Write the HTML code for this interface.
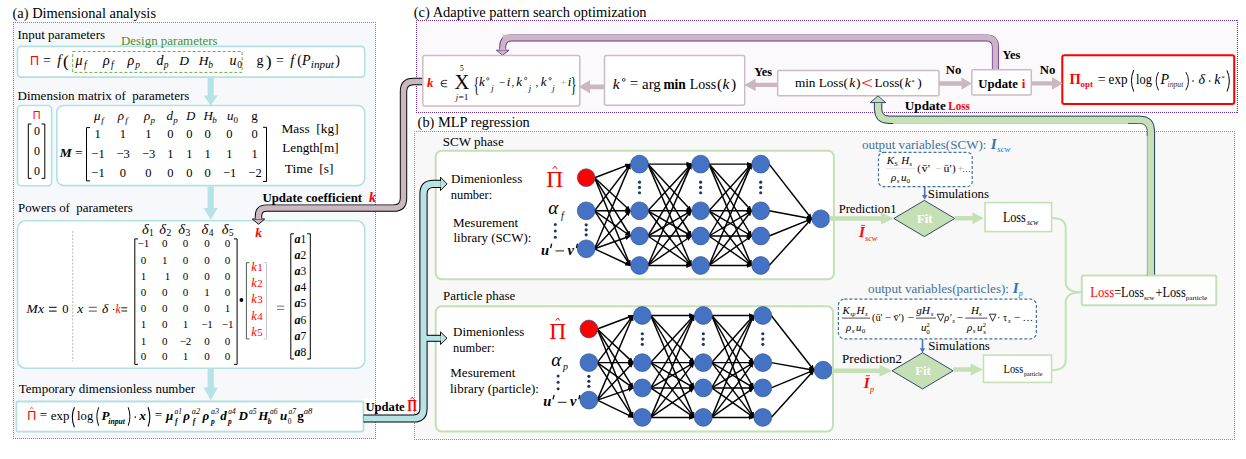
<!DOCTYPE html>
<html><head><meta charset="utf-8"><style>
html,body{margin:0;padding:0;background:#fff;overflow:hidden;}
svg{display:block;font-family:"Liberation Serif",serif;}
</style></head><body>
<svg width="1246" height="459" viewBox="0 0 1246 459">
<defs><marker id="ah" markerWidth="6" markerHeight="6" refX="5" refY="3" orient="auto" markerUnits="userSpaceOnUse"><path d="M0,0.6 L5.5,3 L0,5.4 Z" fill="#000"/></marker></defs>
<rect width="1246" height="459" fill="#fff"/>
<rect x="13.5" y="22.5" width="362.0" height="416.0" fill="#f6f8fc" stroke="none" stroke-width="0"/>
<rect x="416.6" y="20.7" width="820.9" height="91.5" fill="#fbf9fb" stroke="none" stroke-width="0"/>
<rect x="414.8" y="131.5" width="819.8" height="308.0" fill="#f8f8f8" stroke="none" stroke-width="0"/>
<rect x="364" y="398" width="55" height="17.3" fill="#fff" stroke="none" stroke-width="0"/>
<line x1="13" y1="22.5" x2="376" y2="22.5" stroke="#00b0f0" stroke-width="1" stroke-dasharray="1 1"/>
<line x1="13" y1="438.5" x2="376" y2="438.5" stroke="#00b0f0" stroke-width="1" stroke-dasharray="1 1"/>
<line x1="13.5" y1="22" x2="13.5" y2="439" stroke="#00b0f0" stroke-width="1" stroke-dasharray="1 1"/>
<line x1="375.5" y1="22" x2="375.5" y2="439" stroke="#00b0f0" stroke-width="1" stroke-dasharray="1 1"/>
<line x1="416" y1="20.5" x2="1238" y2="20.5" stroke="#7030a0" stroke-width="1" stroke-dasharray="1 1"/>
<line x1="416" y1="112.5" x2="1238" y2="112.5" stroke="#7030a0" stroke-width="1" stroke-dasharray="1 1"/>
<line x1="416.5" y1="20" x2="416.5" y2="113" stroke="#7030a0" stroke-width="1" stroke-dasharray="1 1"/>
<line x1="1237.5" y1="20" x2="1237.5" y2="113" stroke="#7030a0" stroke-width="1" stroke-dasharray="1 1"/>
<line x1="414" y1="131.5" x2="1235" y2="131.5" stroke="#70ad47" stroke-width="1" stroke-dasharray="1 1"/>
<line x1="414" y1="439.5" x2="1235" y2="439.5" stroke="#70ad47" stroke-width="1" stroke-dasharray="1 1"/>
<line x1="414.5" y1="131" x2="414.5" y2="440" stroke="#70ad47" stroke-width="1" stroke-dasharray="1 1"/>
<line x1="1234.5" y1="131" x2="1234.5" y2="440" stroke="#70ad47" stroke-width="1" stroke-dasharray="1 1"/>
<text x="12.5" y="18" font-size="14.4" textLength="143.5" lengthAdjust="spacingAndGlyphs">(a) Dimensional analysis</text>
<text x="17.5" y="38.8" font-size="13" textLength="87.5" lengthAdjust="spacingAndGlyphs">Input parameters</text>
<rect x="17.5" y="46.4" width="347.2" height="30.7" fill="#fff" stroke="#b3e0e1" stroke-width="1.6" rx="3.5"/>
<text x="121" y="44.6" font-size="13" fill="#4f8d2c" textLength="96.6" lengthAdjust="spacingAndGlyphs">Design parameters</text>
<rect x="72.7" y="51.5" width="169.4" height="20.9" fill="none" stroke="#70ad47" stroke-width="1" stroke-dasharray="3 2"/>
<text x="34.45" y="64.8" font-size="12.5" font-family="Liberation Sans" fill="#ff0000" text-anchor="middle">Π</text>
<text x="46.95" y="64.7" font-size="14" text-anchor="middle">=</text>
<text x="59.35" y="65.2" font-size="14.5" font-style="italic" text-anchor="middle">f</text>
<text x="65.8" y="66.7" font-size="17.5" text-anchor="middle">(</text>
<text x="78.95" y="65.2" font-size="14" font-style="italic" text-anchor="middle">μ</text>
<text x="85.25" y="68.2" font-size="9.5" font-style="italic" text-anchor="middle">f</text>
<text x="106.35" y="65.2" font-size="14" font-style="italic" text-anchor="middle">ρ</text>
<text x="112.3" y="68.2" font-size="9.5" font-style="italic" text-anchor="middle">f</text>
<text x="130.95" y="65.2" font-size="14" font-style="italic" text-anchor="middle">ρ</text>
<text x="137.65" y="68.2" font-size="9.5" font-style="italic" text-anchor="middle">p</text>
<text x="159.9" y="65.2" font-size="14" font-style="italic" text-anchor="middle">d</text>
<text x="166.15" y="68.2" font-size="9.5" font-style="italic" text-anchor="middle">p</text>
<text x="184.05" y="65.2" font-size="13.5" font-style="italic" text-anchor="middle">D</text>
<text x="203.5" y="65.2" font-size="13.5" font-style="italic" text-anchor="middle">H</text>
<text x="210.65" y="68.2" font-size="9.5" font-style="italic" text-anchor="middle">b</text>
<text x="232.95" y="65.2" font-size="14" font-style="italic" text-anchor="middle">u</text>
<text x="239.6" y="68.2" font-size="9.5" text-anchor="middle">0</text>
<text x="260.0" y="65.2" font-size="14" text-anchor="middle">g</text>
<text x="268.7" y="66.7" font-size="17.5" text-anchor="middle">)</text>
<text x="280.05" y="64.7" font-size="14" text-anchor="middle">=</text>
<text x="292.35" y="65.2" font-size="14.5" font-style="italic" text-anchor="middle">f</text>
<text x="299.6" y="65.2" font-size="14" text-anchor="middle">(</text>
<text x="306.35" y="65.2" font-size="14" font-style="italic" text-anchor="middle">P</text>
<text x="310.8" y="67.8" font-size="11" font-style="italic" textLength="23.1" lengthAdjust="spacingAndGlyphs">input</text>
<text x="337.5" y="65.2" font-size="14" text-anchor="middle">)</text>
<path d="M207.6,78 H213.8 V95.5 H217.8 L210.7,105.5 L203.6,95.5 H207.6 Z" fill="#b7e3e4" stroke="none" stroke-width="1" />
<path d="M207.6,186.5 H213.8 V208 H217.8 L210.7,219.8 L203.6,208 H207.6 Z" fill="#b7e3e4" stroke="none" stroke-width="1" />
<path d="M207.6,369 H213.8 V387.5 H217.8 L210.7,400.5 L203.6,387.5 H207.6 Z" fill="#b7e3e4" stroke="none" stroke-width="1" />
<text x="17.5" y="99.5" font-size="13" textLength="171.9" lengthAdjust="spacingAndGlyphs">Dimension matrix of  parameters</text>
<rect x="17.5" y="105.5" width="34.1" height="80.3" fill="#fff" stroke="#b3e0e1" stroke-width="1.6" rx="3.5"/>
<rect x="56.8" y="105.5" width="307.9" height="80.1" fill="#fff" stroke="#b3e0e1" stroke-width="1.6" rx="7"/>
<text x="36.55" y="118.6" font-size="10.8" font-family="Liberation Sans" fill="#ff0000" text-anchor="middle">Π</text>
<path d="M31.5,124 H28.3 V178.4 H31.5" fill="none" stroke="#000" stroke-width="1" />
<path d="M41.599999999999994,124 H44.8 V178.4 H41.599999999999994" fill="none" stroke="#000" stroke-width="1" />
<text x="37" y="135.3" font-size="12" text-anchor="middle">0</text>
<text x="37" y="154.9" font-size="12" text-anchor="middle">0</text>
<text x="37" y="174.5" font-size="12" text-anchor="middle">0</text>
<text x="65.7" y="157.2" font-size="13.5" font-weight="bold" font-style="italic" text-anchor="middle">M</text>
<text x="78.85" y="156.7" font-size="13.5" text-anchor="middle">=</text>
<path d="M90.0,127.6 H86.5 V180.9 H90.0" fill="none" stroke="#000" stroke-width="1" />
<path d="M263.0,127.3 H266.5 V181.5 H263.0" fill="none" stroke="#000" stroke-width="1" />
<text x="97.7" y="137.6" font-size="12.5" text-anchor="middle">1</text>
<text x="122.8" y="137.6" font-size="12.5" text-anchor="middle">1</text>
<text x="148.4" y="137.6" font-size="12.5" text-anchor="middle">1</text>
<text x="170.4" y="137.6" font-size="12.5" text-anchor="middle">0</text>
<text x="189.3" y="137.6" font-size="12.5" text-anchor="middle">0</text>
<text x="207.6" y="137.6" font-size="12.5" text-anchor="middle">0</text>
<text x="229.4" y="137.6" font-size="12.5" text-anchor="middle">0</text>
<text x="254.7" y="137.6" font-size="12.5" text-anchor="middle">0</text>
<text x="98.0" y="157.7" font-size="12.5" text-anchor="middle">−1</text>
<text x="123.1" y="157.7" font-size="12.5" text-anchor="middle">−3</text>
<text x="148.7" y="157.7" font-size="12.5" text-anchor="middle">−3</text>
<text x="170.4" y="157.7" font-size="12.5" text-anchor="middle">1</text>
<text x="189.3" y="157.7" font-size="12.5" text-anchor="middle">1</text>
<text x="207.6" y="157.7" font-size="12.5" text-anchor="middle">1</text>
<text x="229.4" y="157.7" font-size="12.5" text-anchor="middle">1</text>
<text x="254.7" y="157.7" font-size="12.5" text-anchor="middle">1</text>
<text x="98.0" y="176.5" font-size="12.5" text-anchor="middle">−1</text>
<text x="122.8" y="176.5" font-size="12.5" text-anchor="middle">0</text>
<text x="148.4" y="176.5" font-size="12.5" text-anchor="middle">0</text>
<text x="170.4" y="176.5" font-size="12.5" text-anchor="middle">0</text>
<text x="189.3" y="176.5" font-size="12.5" text-anchor="middle">0</text>
<text x="207.6" y="176.5" font-size="12.5" text-anchor="middle">0</text>
<text x="229.7" y="176.5" font-size="12.5" text-anchor="middle">−1</text>
<text x="255.0" y="176.5" font-size="12.5" text-anchor="middle">−2</text>
<text x="97.15" y="120" font-size="13" font-style="italic" text-anchor="middle">μ</text>
<text x="102.55" y="122.6" font-size="9" font-style="italic" text-anchor="middle">f</text>
<text x="120.9" y="120" font-size="13" font-style="italic" text-anchor="middle">ρ</text>
<text x="126.4" y="122.6" font-size="9" font-style="italic" text-anchor="middle">f</text>
<text x="147.1" y="120" font-size="13" font-style="italic" text-anchor="middle">ρ</text>
<text x="152.75" y="122.6" font-size="9" font-style="italic" text-anchor="middle">p</text>
<text x="169.85" y="120" font-size="13" font-style="italic" text-anchor="middle">d</text>
<text x="175.4" y="122.6" font-size="9" font-style="italic" text-anchor="middle">p</text>
<text x="190.65" y="120" font-size="12.5" font-style="italic" text-anchor="middle">D</text>
<text x="208.25" y="120" font-size="13" font-style="italic" text-anchor="middle">H</text>
<text x="214.4" y="122.6" font-size="9" font-style="italic" text-anchor="middle">b</text>
<text x="230.25" y="120" font-size="13" font-style="italic" text-anchor="middle">u</text>
<text x="235.65" y="122.6" font-size="9" text-anchor="middle">0</text>
<text x="254.5" y="120" font-size="13" text-anchor="middle">g</text>
<text x="281.5" y="133" font-size="13" textLength="57.1" lengthAdjust="spacingAndGlyphs">Mass  [kg]</text>
<text x="282.3" y="152" font-size="13" textLength="56.3" lengthAdjust="spacingAndGlyphs">Length[m]</text>
<text x="284.8" y="172.7" font-size="13" textLength="48.6" lengthAdjust="spacingAndGlyphs">Time  [s]</text>
<text x="18" y="212" font-size="13" textLength="114.8" lengthAdjust="spacingAndGlyphs">Powers of  parameters</text>
<rect x="17.5" y="220.8" width="347.2" height="147.4" fill="#fff" stroke="#b3e0e1" stroke-width="1.6" rx="8"/>
<line x1="72.7" y1="231" x2="72.7" y2="361.4" stroke="#a6a6a6" stroke-width="0.8" stroke-dasharray="2 1.5"/>
<text x="32.15" y="312.6" font-size="13.5" font-style="italic" text-anchor="middle">M</text>
<text x="40.95" y="312.6" font-size="13.5" font-style="italic" text-anchor="middle">x</text>
<line x1="49.1" y1="307.3" x2="56.6" y2="307.3" stroke="#000" stroke-width="1.0"/>
<line x1="49.1" y1="311.09999999999997" x2="56.6" y2="311.09999999999997" stroke="#000" stroke-width="1.0"/>
<text x="65.45" y="312.6" font-size="12.5" text-anchor="middle">0</text>
<text x="80.25" y="312.6" font-size="13.5" font-style="italic" text-anchor="middle">x</text>
<line x1="88.8" y1="307.3" x2="96.8" y2="307.3" stroke="#555" stroke-width="1.0"/>
<line x1="88.8" y1="311.09999999999997" x2="96.8" y2="311.09999999999997" stroke="#555" stroke-width="1.0"/>
<text x="105.2" y="312.6" font-size="13.5" font-style="italic" text-anchor="middle">δ</text>
<circle cx="113.6" cy="309.4" r="0.7" fill="#000" stroke="none" stroke-width="1"/>
<text x="118.0" y="312.6" font-size="11.5" fill="#ff0000" font-style="italic" text-anchor="middle">k</text>
<line x1="121.5" y1="307.79999999999995" x2="127.2" y2="307.79999999999995" stroke="#000" stroke-width="0.9"/>
<line x1="121.5" y1="311.0" x2="127.2" y2="311.0" stroke="#000" stroke-width="0.9"/>
<text x="145.25" y="233.8" font-size="14.5" font-style="italic" text-anchor="middle">δ</text>
<text x="151.4" y="236.4" font-size="9.5" text-anchor="middle">1</text>
<text x="162.65" y="233.8" font-size="14.5" font-style="italic" text-anchor="middle">δ</text>
<text x="168.8" y="236.4" font-size="9.5" text-anchor="middle">2</text>
<text x="181.65" y="233.8" font-size="14.5" font-style="italic" text-anchor="middle">δ</text>
<text x="187.8" y="236.4" font-size="9.5" text-anchor="middle">3</text>
<text x="204.95" y="233.8" font-size="14.5" font-style="italic" text-anchor="middle">δ</text>
<text x="211.1" y="236.4" font-size="9.5" text-anchor="middle">4</text>
<text x="225.05" y="233.8" font-size="14.5" font-style="italic" text-anchor="middle">δ</text>
<text x="231.2" y="236.4" font-size="9.5" text-anchor="middle">5</text>
<path d="M138.0,238.9 H134.8 V364.4 H138.0" fill="none" stroke="#000" stroke-width="1" />
<path d="M233.9,238.9 H237.1 V364.4 H233.9" fill="none" stroke="#000" stroke-width="1" />
<text x="143.4" y="247.3" font-size="11" text-anchor="middle">−1</text>
<text x="164.7" y="247.3" font-size="11" text-anchor="middle">0</text>
<text x="185.5" y="247.3" font-size="11" text-anchor="middle">0</text>
<text x="207" y="247.3" font-size="11" text-anchor="middle">0</text>
<text x="227.6" y="247.3" font-size="11" text-anchor="middle">0</text>
<text x="143.4" y="263.9" font-size="11" text-anchor="middle">0</text>
<text x="164.7" y="263.9" font-size="11" text-anchor="middle">1</text>
<text x="185.5" y="263.9" font-size="11" text-anchor="middle">0</text>
<text x="207" y="263.9" font-size="11" text-anchor="middle">0</text>
<text x="227.6" y="263.9" font-size="11" text-anchor="middle">0</text>
<text x="143.4" y="279.7" font-size="11" text-anchor="middle">1</text>
<text x="167.5" y="279.7" font-size="11" text-anchor="middle">1</text>
<text x="185.5" y="279.7" font-size="11" text-anchor="middle">0</text>
<text x="207" y="279.7" font-size="11" text-anchor="middle">0</text>
<text x="227.6" y="279.7" font-size="11" text-anchor="middle">0</text>
<text x="143.4" y="296" font-size="11" text-anchor="middle">0</text>
<text x="164.7" y="296" font-size="11" text-anchor="middle">0</text>
<text x="185.5" y="296" font-size="11" text-anchor="middle">0</text>
<text x="207" y="296" font-size="11" text-anchor="middle">1</text>
<text x="227.6" y="296" font-size="11" text-anchor="middle">0</text>
<text x="143.4" y="312" font-size="11" text-anchor="middle">0</text>
<text x="164.7" y="312" font-size="11" text-anchor="middle">0</text>
<text x="185.5" y="312" font-size="11" text-anchor="middle">0</text>
<text x="207" y="312" font-size="11" text-anchor="middle">0</text>
<text x="227.6" y="312" font-size="11" text-anchor="middle">1</text>
<text x="143.4" y="328.2" font-size="11" text-anchor="middle">1</text>
<text x="164.7" y="328.2" font-size="11" text-anchor="middle">0</text>
<text x="185.5" y="328.2" font-size="11" text-anchor="middle">1</text>
<text x="207" y="328.2" font-size="11" text-anchor="middle">−1</text>
<text x="227.6" y="328.2" font-size="11" text-anchor="middle">−1</text>
<text x="143.4" y="344.5" font-size="11" text-anchor="middle">1</text>
<text x="164.7" y="344.5" font-size="11" text-anchor="middle">0</text>
<text x="185.5" y="344.5" font-size="11" text-anchor="middle">−2</text>
<text x="207" y="344.5" font-size="11" text-anchor="middle">0</text>
<text x="227.6" y="344.5" font-size="11" text-anchor="middle">0</text>
<text x="143.4" y="360.3" font-size="11" text-anchor="middle">0</text>
<text x="164.7" y="360.3" font-size="11" text-anchor="middle">0</text>
<text x="185.5" y="360.3" font-size="11" text-anchor="middle">1</text>
<text x="207" y="360.3" font-size="11" text-anchor="middle">0</text>
<text x="227.6" y="360.3" font-size="11" text-anchor="middle">0</text>
<circle cx="241.4" cy="300" r="1.9" fill="#000" stroke="none" stroke-width="1"/>
<text x="258.5" y="236.9" font-size="13.5" fill="#ff0000" font-weight="bold" font-style="italic" text-anchor="middle">k</text>
<path d="M249.4,262.7 H246.4 V338.9 H249.4" fill="none" stroke="#444" stroke-width="0.9" />
<path d="M263.5,262.7 H266.5 V338.9 H263.5" fill="none" stroke="#bbb" stroke-width="0.8" />
<text x="254.1" y="271.4" font-size="12.5" fill="#ff0000" font-style="italic" text-anchor="middle">k</text>
<text x="259.95" y="271.4" font-size="11" fill="#ff0000" text-anchor="middle">1</text>
<text x="254.1" y="287.2" font-size="12.5" fill="#ff0000" font-style="italic" text-anchor="middle">k</text>
<text x="259.95" y="287.2" font-size="11" fill="#ff0000" text-anchor="middle">2</text>
<text x="254.1" y="302.8" font-size="12.5" fill="#ff0000" font-style="italic" text-anchor="middle">k</text>
<text x="259.95" y="302.8" font-size="11" fill="#ff0000" text-anchor="middle">3</text>
<text x="254.1" y="320" font-size="12.5" fill="#ff0000" font-style="italic" text-anchor="middle">k</text>
<text x="259.95" y="320" font-size="11" fill="#ff0000" text-anchor="middle">4</text>
<text x="254.1" y="336.4" font-size="12.5" fill="#ff0000" font-style="italic" text-anchor="middle">k</text>
<text x="259.95" y="336.4" font-size="11" fill="#ff0000" text-anchor="middle">5</text>
<line x1="277" y1="306.2" x2="284.2" y2="306.2" stroke="#666" stroke-width="0.9"/>
<line x1="277" y1="309.40000000000003" x2="284.2" y2="309.40000000000003" stroke="#666" stroke-width="0.9"/>
<path d="M294.0,233.8 H290.8 V359 H294.0" fill="none" stroke="#000" stroke-width="1" />
<path d="M307.1,233.8 H310.3 V359 H307.1" fill="none" stroke="#000" stroke-width="1" />
<text x="297.5" y="242.6" font-size="12" font-weight="bold" font-style="italic" text-anchor="middle">a</text>
<text x="303.45" y="242.6" font-size="11.5" text-anchor="middle">1</text>
<text x="297.5" y="258.9" font-size="12" font-weight="bold" font-style="italic" text-anchor="middle">a</text>
<text x="303.45" y="258.9" font-size="11.5" text-anchor="middle">2</text>
<text x="297.5" y="274.7" font-size="12" font-weight="bold" font-style="italic" text-anchor="middle">a</text>
<text x="303.45" y="274.7" font-size="11.5" text-anchor="middle">3</text>
<text x="297.5" y="291" font-size="12" font-weight="bold" font-style="italic" text-anchor="middle">a</text>
<text x="303.45" y="291" font-size="11.5" text-anchor="middle">4</text>
<text x="297.5" y="306.5" font-size="12" font-weight="bold" font-style="italic" text-anchor="middle">a</text>
<text x="303.45" y="306.5" font-size="11.5" text-anchor="middle">5</text>
<text x="297.5" y="323.8" font-size="12" font-weight="bold" font-style="italic" text-anchor="middle">a</text>
<text x="303.45" y="323.8" font-size="11.5" text-anchor="middle">6</text>
<text x="297.5" y="339.6" font-size="12" font-weight="bold" font-style="italic" text-anchor="middle">a</text>
<text x="303.45" y="339.6" font-size="11.5" text-anchor="middle">7</text>
<text x="297.5" y="355.7" font-size="12" font-weight="bold" font-style="italic" text-anchor="middle">a</text>
<text x="303.45" y="355.7" font-size="11.5" text-anchor="middle">8</text>
<text x="18.8" y="393.3" font-size="13" textLength="176.2" lengthAdjust="spacingAndGlyphs">Temporary dimensionless number</text>
<rect x="16.4" y="401.5" width="347.1" height="30.1" fill="#fff" stroke="#b3e0e1" stroke-width="1.8" rx="1.5"/>
<text x="31.65" y="420" font-size="12.5" font-family="Liberation Sans" fill="#ff0000" text-anchor="middle">Π</text>
<path d="M30.2,408.7 L31.7,407.4 L33.2,408.7" fill="none" stroke="#ff0000" stroke-width="0.8" />
<text x="43.45" y="419.2" font-size="13" text-anchor="middle">=</text>
<text x="50.7" y="420" font-size="13.5" textLength="18.7" lengthAdjust="spacingAndGlyphs">exp</text>
<path d="M74.4,407.3 Q70.2,417.25 74.4,427.2" fill="none" stroke="#000" stroke-width="1.1" />
<text x="77.1" y="420" font-size="13.5" textLength="16.1" lengthAdjust="spacingAndGlyphs">log</text>
<path d="M98.7,407.3 Q95.0,416.55 98.7,425.8" fill="none" stroke="#000" stroke-width="1.0" />
<text x="105.6" y="419.5" font-size="13" font-weight="bold" font-style="italic" text-anchor="middle">P</text>
<text x="108.3" y="423.5" font-size="8" font-weight="bold" font-style="italic" textLength="16.7" lengthAdjust="spacingAndGlyphs">input</text>
<path d="M128.2,407.3 Q131.60000000000002,416.55 128.2,425.8" fill="none" stroke="#000" stroke-width="1.0" />
<circle cx="135.3" cy="417.1" r="0.8" fill="#000" stroke="none" stroke-width="1"/>
<text x="142.5" y="420" font-size="13.5" font-weight="bold" font-style="italic" text-anchor="middle">x</text>
<path d="M148.1,407.3 Q151.5,416.9 148.1,426.5" fill="none" stroke="#000" stroke-width="1.1" />
<text x="158.35" y="419.2" font-size="13" text-anchor="middle">=</text>
<text x="169.65" y="420" font-size="13" font-weight="bold" font-style="italic" text-anchor="middle">μ</text>
<text x="176.35" y="424" font-size="7.5" font-weight="bold" font-style="italic" text-anchor="middle">f</text>
<text x="178.15" y="414.3" font-size="7.5" font-style="italic" text-anchor="middle">a1</text>
<text x="186.65" y="420" font-size="13" font-weight="bold" font-style="italic" text-anchor="middle">ρ</text>
<text x="194.05" y="424" font-size="7.5" font-weight="bold" font-style="italic" text-anchor="middle">f</text>
<text x="191.8" y="414.3" font-size="7.5" font-style="italic" textLength="8.3" lengthAdjust="spacingAndGlyphs">a2</text>
<text x="205.9" y="420" font-size="13" font-weight="bold" font-style="italic" text-anchor="middle">ρ</text>
<text x="212.95" y="424" font-size="7.5" font-weight="bold" font-style="italic" text-anchor="middle">p</text>
<text x="211" y="414.3" font-size="7.5" font-style="italic" textLength="8.1" lengthAdjust="spacingAndGlyphs">a3</text>
<text x="223.55" y="420" font-size="13" font-weight="bold" font-style="italic" text-anchor="middle">d</text>
<text x="229.8" y="424" font-size="7.5" font-weight="bold" font-style="italic" text-anchor="middle">p</text>
<text x="232.05" y="414.3" font-size="7.5" font-style="italic" text-anchor="middle">a4</text>
<text x="243.1" y="420" font-size="13" font-weight="bold" font-style="italic" text-anchor="middle">D</text>
<text x="248.9" y="414.3" font-size="7.5" font-style="italic" textLength="7.7" lengthAdjust="spacingAndGlyphs">a5</text>
<text x="263.3" y="420" font-size="13" font-weight="bold" font-style="italic" text-anchor="middle">H</text>
<text x="269.5" y="424" font-size="7.5" font-weight="bold" font-style="italic" text-anchor="middle">b</text>
<text x="273.85" y="414.3" font-size="7.5" font-style="italic" text-anchor="middle">a6</text>
<text x="283.55" y="420" font-size="13" font-weight="bold" font-style="italic" text-anchor="middle">u</text>
<text x="289.5" y="424" font-size="7.5" text-anchor="middle">0</text>
<text x="288.4" y="414.3" font-size="7.5" font-style="italic" textLength="7.6" lengthAdjust="spacingAndGlyphs">a7</text>
<text x="300.4" y="420" font-size="13" font-weight="bold" text-anchor="middle">g</text>
<text x="303.8" y="414.3" font-size="7.5" font-style="italic" textLength="8.6" lengthAdjust="spacingAndGlyphs">a8</text>
<text x="262.4" y="201.7" font-size="13" font-weight="bold" textLength="99.7" lengthAdjust="spacingAndGlyphs">Update coefficient</text>
<text x="372.55" y="201.7" font-size="14" fill="#ff0000" font-weight="bold" font-style="italic" text-anchor="middle">k</text>
<path d="M423,81.5 H413.5 Q403.5,81.5 403.5,91.5 V198.2 Q403.5,208.1 393.5,208.1 H266.5 Q258.5,208.1 258.5,216.1 V219.5" fill="none" stroke="#000" stroke-width="7.4" />
<path d="M423,81.5 H413.5 Q403.5,81.5 403.5,91.5 V198.2 Q403.5,208.1 393.5,208.1 H266.5 Q258.5,208.1 258.5,216.1 V219.5" fill="none" stroke="#c9b8bf" stroke-width="5.5" />
<path d="M252.3,219 H264.7 L258.5,224.3 Z" fill="#c9b8bf" stroke="#000" stroke-width="0.9" />
<path d="M255.6,218.2 H261.4" fill="none" stroke="#c9b8bf" stroke-width="1.6" />
<text x="413.8" y="16.7" font-size="14.4" textLength="232.8" lengthAdjust="spacingAndGlyphs">(c) Adaptive pattern search optimization</text>
<path d="M995.4,70 V47 Q995.4,38 986.4,38 H511.7 Q502.7,38 502.7,47 V50.5" fill="none" stroke="#7030a0" stroke-width="7.0" />
<path d="M995.4,70 V47 Q995.4,38 986.4,38 H511.7 Q502.7,38 502.7,47 V50.5" fill="none" stroke="#c9b8bf" stroke-width="5.2" />
<path d="M502.7,38 H986.4 Q995.4,38 995.4,47 V70" fill="none" stroke="#c9b8bf" stroke-width="5.2" transform="translate(0,-0.6)"/>
<path d="M496.3,50.2 H509 L502.6,55.2 Z" fill="#c9b8bf" stroke="#7030a0" stroke-width="0.9" />
<path d="M499.6,49.5 H505.8" fill="none" stroke="#c9b8bf" stroke-width="1.6" />
<rect x="422.8" y="55.6" width="157.0" height="50.3" fill="#fff" stroke="#cbbcc3" stroke-width="1.5" rx="2"/>
<rect x="604.5" y="55.6" width="140.2" height="49.7" fill="#fff" stroke="#cbbcc3" stroke-width="1.5" rx="2"/>
<rect x="777.7" y="70.6" width="161.3" height="25.2" fill="#fff" stroke="#cbbcc3" stroke-width="1.5" rx="1"/>
<rect x="971.8" y="69.8" width="59.5" height="25.3" fill="#fff" stroke="#cbbcc3" stroke-width="1.5" rx="1"/>
<rect x="1062.3" y="55.2" width="171.9" height="48.9" fill="#fff" stroke="#ff0000" stroke-width="2" rx="2"/>
<path d="M604.5,84.39999999999999 H590 V80.35 L578.7,86.8 L590,93.25 V89.2 H604.5 Z" fill="#c9b8bf" stroke="none" stroke-width="1" />
<path d="M777.7,82.80000000000001 H755.6 V78.7 L744.2,84.9 L755.6,91.10000000000001 V87.0 H777.7 Z" fill="#c9b8bf" stroke="none" stroke-width="1" />
<path d="M939,81.35 H961.4 V77.39999999999999 L971.8,83.6 L961.4,89.8 V85.85 H939 Z" fill="#c9b8bf" stroke="none" stroke-width="1" />
<path d="M1031.3,81.2 H1052 V76.95 L1062.6,83.4 L1052,89.85000000000001 V85.60000000000001 H1031.3 Z" fill="#c9b8bf" stroke="none" stroke-width="1" />
<text x="430.25" y="86.5" font-size="13" fill="#ff0000" font-weight="bold" font-style="italic" text-anchor="middle">k</text>
<path d="M447.2,80.4 H444.2 Q441.1,80.4 441.1,83.6 Q441.1,86.8 444.2,86.8 H447.2 M441.3,83.6 H446.6" fill="none" stroke="#000" stroke-width="0.8" />
<text x="461.85" y="89.4" font-size="20.5" text-anchor="middle">X</text>
<text x="461.9" y="70.6" font-size="7.5" text-anchor="middle">5</text>
<text x="456.9" y="100" font-size="8.5" font-style="italic" text-anchor="middle">j</text>
<text x="458.5" y="100" font-size="8.5" textLength="9.9" lengthAdjust="spacingAndGlyphs">=1</text>
<text x="476.35" y="91" font-size="20" text-anchor="middle" transform="translate(476.3,0) scale(0.6,1) translate(-476.3,0)">{</text>
<text x="481.85" y="86.3" font-size="13" font-style="italic" text-anchor="middle">k</text>
<circle cx="487.8" cy="78.8" r="1.2" fill="none" stroke="#000" stroke-width="0.6"/>
<text x="492.4" y="90.5" font-size="8.5" font-style="italic" text-anchor="middle">j</text>
<text x="501.95" y="86.3" font-size="11" text-anchor="middle">−</text>
<text x="508.5" y="86.3" font-size="13" font-style="italic" text-anchor="middle">i</text>
<text x="512.85" y="86.3" font-size="11" text-anchor="middle">,</text>
<text x="519.15" y="86.3" font-size="13" font-style="italic" text-anchor="middle">k</text>
<circle cx="525.7" cy="78.5" r="1.2" fill="none" stroke="#000" stroke-width="0.6"/>
<text x="529.9" y="90.5" font-size="8.5" font-style="italic" text-anchor="middle">j</text>
<text x="536.95" y="86.3" font-size="11" text-anchor="middle">,</text>
<text x="543.55" y="86.3" font-size="13" font-style="italic" text-anchor="middle">k</text>
<circle cx="550.1" cy="78.8" r="1.2" fill="none" stroke="#000" stroke-width="0.6"/>
<text x="553.4" y="90.5" font-size="8.5" font-style="italic" text-anchor="middle">j</text>
<text x="563.25" y="86.3" font-size="11" fill="#aaa" text-anchor="middle">+</text>
<text x="569.5" y="86.3" font-size="13" font-style="italic" text-anchor="middle">i</text>
<text x="573.65" y="91" font-size="20" text-anchor="middle" transform="translate(573.6,0) scale(0.6,1) translate(-573.6,0)">}</text>
<text x="616.25" y="88.8" font-size="15.5" font-style="italic" text-anchor="middle">k</text>
<circle cx="623.8" cy="79.9" r="1.4" fill="none" stroke="#000" stroke-width="0.7"/>
<text x="634.05" y="88.3" font-size="15" text-anchor="middle">=</text>
<text x="642.1" y="88.8" font-size="15.5" textLength="18.7" lengthAdjust="spacingAndGlyphs">arg</text>
<text x="663.4" y="88.8" font-size="15.5" font-weight="bold" textLength="22.3" lengthAdjust="spacingAndGlyphs">min</text>
<text x="689.8" y="88.8" font-size="15.5" textLength="26.4" lengthAdjust="spacingAndGlyphs">Loss</text>
<text x="719.65" y="88.8" font-size="15.5" text-anchor="middle">(</text>
<text x="726.05" y="88.8" font-size="15.5" font-style="italic" text-anchor="middle">k</text>
<text x="733.65" y="88.8" font-size="15.5" text-anchor="middle">)</text>
<text x="754.2" y="76.3" font-size="13" font-weight="bold" textLength="18.0" lengthAdjust="spacingAndGlyphs">Yes</text>
<text x="794.9" y="87.2" font-size="13.5" textLength="20.6" lengthAdjust="spacingAndGlyphs">min</text>
<text x="818.7" y="87.2" font-size="13.5" textLength="24.9" lengthAdjust="spacingAndGlyphs">Loss</text>
<text x="845.8" y="87.2" font-size="13.5" text-anchor="middle">(</text>
<text x="852.3" y="87.2" font-size="13.5" font-style="italic" text-anchor="middle">k</text>
<text x="858.25" y="87.2" font-size="13.5" text-anchor="middle">)</text>
<path d="M871.8,79.4 L862.4,83 L871.8,86.6" fill="none" stroke="#ff0000" stroke-width="0.9" />
<text x="874.5" y="87.2" font-size="13.5" textLength="24.9" lengthAdjust="spacingAndGlyphs">Loss</text>
<text x="901.6" y="87.2" font-size="13.5" text-anchor="middle">(</text>
<text x="907.8" y="87.2" font-size="13.5" font-style="italic" text-anchor="middle">k</text>
<text x="912.95" y="83.5" font-size="7" text-anchor="middle">*</text>
<text x="919.45" y="87.2" font-size="13.5" text-anchor="middle">)</text>
<text x="945.8" y="74.2" font-size="13" font-weight="bold" textLength="15.6" lengthAdjust="spacingAndGlyphs">No</text>
<text x="978.3" y="87.9" font-size="13" font-weight="bold" textLength="39.7" lengthAdjust="spacingAndGlyphs">Update</text>
<text x="1023.5" y="87.9" font-size="13" fill="#ff0000" font-weight="bold" text-anchor="middle">i</text>
<text x="1002.4" y="58.5" font-size="13" font-weight="bold" textLength="18.0" lengthAdjust="spacingAndGlyphs">Yes</text>
<text x="1039.7" y="73.5" font-size="13" font-weight="bold" textLength="15.6" lengthAdjust="spacingAndGlyphs">No</text>
<text x="1075.15" y="84.3" font-size="14.5" fill="#ff0000" font-weight="bold" text-anchor="middle">Π</text>
<text x="1080.5" y="87.1" font-size="9" fill="#ff0000" font-weight="bold" textLength="12.4" lengthAdjust="spacingAndGlyphs">opt</text>
<text x="1101.6" y="83.5" font-size="14" text-anchor="middle">=</text>
<text x="1108.6" y="84" font-size="14.5" textLength="19.0" lengthAdjust="spacingAndGlyphs">exp</text>
<path d="M1133.8,69.9 Q1129.1000000000001,80.75 1133.8,91.6" fill="none" stroke="#000" stroke-width="1.0" />
<text x="1136" y="84" font-size="14.5" textLength="15.9" lengthAdjust="spacingAndGlyphs">log</text>
<path d="M1158.5,72.1 Q1153.8,81.15 1158.5,90.2" fill="none" stroke="#000" stroke-width="0.9" />
<text x="1164.9" y="84.1" font-size="14" font-style="italic" text-anchor="middle">P</text>
<text x="1167.5" y="87.4" font-size="7.5" fill="#333" font-style="italic" textLength="15.8" lengthAdjust="spacingAndGlyphs">input</text>
<path d="M1185.9,72.1 Q1191.1,81.15 1185.9,90.2" fill="none" stroke="#000" stroke-width="0.9" />
<circle cx="1193" cy="81" r="0.8" fill="#000" stroke="none" stroke-width="1"/>
<text x="1201.8" y="84" font-size="14" font-style="italic" text-anchor="middle">δ</text>
<circle cx="1209.7" cy="81" r="0.8" fill="#000" stroke="none" stroke-width="1"/>
<text x="1217.25" y="84" font-size="14" font-style="italic" text-anchor="middle">k</text>
<text x="1223.15" y="79.5" font-size="6.5" text-anchor="middle">*</text>
<path d="M1227,70.4 Q1231.7,81.0 1227,91.6" fill="none" stroke="#000" stroke-width="1.0" />
<text x="904.8" y="109.6" font-size="13" font-weight="bold" textLength="41.0" lengthAdjust="spacingAndGlyphs">Update</text>
<text x="948.2" y="109.6" font-size="13" fill="#ff0000" font-weight="bold" textLength="21.7" lengthAdjust="spacingAndGlyphs">Loss</text>
<path d="M1150.9,275.6 V131 Q1150.9,119.8 1139.7,119.8 H889 Q878.1,119.8 878.1,108.9 V102.3" fill="none" stroke="#c5e0b4" stroke-width="7.4" />
<path d="M881.8,102.8 V108.9 Q881.8,116.1 889,116.1 H1139.7 Q1154.6,116.1 1154.6,131 V275.6" fill="none" stroke="#1f3864" stroke-width="1" />
<path d="M874.4,102.8 V108.9 Q874.4,123.5 889,123.5 H893" fill="none" stroke="#1f3864" stroke-width="1" />
<path d="M1128,123.5 H1139.7 Q1147.2,123.5 1147.2,131 V136" fill="none" stroke="#1f3864" stroke-width="0.8" />
<path d="M870.3,102.6 H885.7 L878,95.9 Z" fill="#c5e0b4" stroke="#1f3864" stroke-width="0.9" />
<path d="M874.9,102.9 V104 H881.3 V102.9" fill="#c5e0b4" stroke="none" stroke-width="1" />
<text x="417.6" y="127.4" font-size="14.4" textLength="112.2" lengthAdjust="spacingAndGlyphs">(b) MLP regression</text>
<text x="442.7" y="145.5" font-size="13" textLength="61.0" lengthAdjust="spacingAndGlyphs">SCW phase</text>
<rect x="435.7" y="150.7" width="398.2" height="128.5" fill="#fff" stroke="#c5e0b4" stroke-width="2" rx="6"/>
<text x="443.1" y="300" font-size="13" textLength="72.1" lengthAdjust="spacingAndGlyphs">Particle phase</text>
<rect x="435.7" y="306.3" width="397.3" height="125.2" fill="#fff" stroke="#c5e0b4" stroke-width="2" rx="6"/>
<text x="365.5" y="410.8" font-size="13" font-weight="bold" textLength="39.2" lengthAdjust="spacingAndGlyphs">Update</text>
<text x="407.3" y="410.8" font-size="16" fill="#ff0000" font-weight="bold" textLength="9.8" lengthAdjust="spacingAndGlyphs">Π</text>
<path d="M410.4,399.4 L412.2,397.2 L414.0,399.4" fill="none" stroke="#ff0000" stroke-width="0.9" />
<path d="M363.5,418.5 H413.5 Q423.5,418.5 423.5,408.5 V193.9 Q423.5,183.9 433.5,183.9 H441" fill="none" stroke="#000" stroke-width="8.2" />
<path d="M424,338.3 H441" fill="none" stroke="#000" stroke-width="7.0" />
<path d="M363.5,418.5 H413.5 Q423.5,418.5 423.5,408.5 V193.9 Q423.5,183.9 433.5,183.9 H441" fill="none" stroke="#b7e3e4" stroke-width="6.2" />
<path d="M423,338.3 H441.5" fill="none" stroke="#b7e3e4" stroke-width="5.0" />
<path d="M440.5,177.2 L447,183.9 L440.5,190.6 Z" fill="#b7e3e4" stroke="#000" stroke-width="0.9" />
<path d="M440.5,331.9 L447,338.2 L440.5,344.5 Z" fill="#b7e3e4" stroke="#000" stroke-width="0.9" />
<path d="M440,180.9 V186.9 M440,335.9 V340.7" fill="none" stroke="#b7e3e4" stroke-width="1.6" />
<line x1="594.6" y1="177.7" x2="630.3" y2="164.1" stroke="#000" stroke-width="1.45" marker-end="url(#ah)"/>
<line x1="594.6" y1="177.7" x2="630.3" y2="210.8" stroke="#000" stroke-width="1.45" marker-end="url(#ah)"/>
<line x1="594.6" y1="177.7" x2="630.3" y2="236.0" stroke="#000" stroke-width="1.45" marker-end="url(#ah)"/>
<line x1="594.6" y1="177.7" x2="630.3" y2="265.5" stroke="#000" stroke-width="1.45" marker-end="url(#ah)"/>
<line x1="594.6" y1="210.8" x2="630.3" y2="164.1" stroke="#000" stroke-width="1.45" marker-end="url(#ah)"/>
<line x1="594.6" y1="210.8" x2="630.3" y2="210.8" stroke="#000" stroke-width="1.45" marker-end="url(#ah)"/>
<line x1="594.6" y1="210.8" x2="630.3" y2="236.0" stroke="#000" stroke-width="1.45" marker-end="url(#ah)"/>
<line x1="594.6" y1="210.8" x2="630.3" y2="265.5" stroke="#000" stroke-width="1.45" marker-end="url(#ah)"/>
<line x1="594.6" y1="248.8" x2="630.3" y2="164.1" stroke="#000" stroke-width="1.45" marker-end="url(#ah)"/>
<line x1="594.6" y1="248.8" x2="630.3" y2="210.8" stroke="#000" stroke-width="1.45" marker-end="url(#ah)"/>
<line x1="594.6" y1="248.8" x2="630.3" y2="236.0" stroke="#000" stroke-width="1.45" marker-end="url(#ah)"/>
<line x1="594.6" y1="248.8" x2="630.3" y2="265.5" stroke="#000" stroke-width="1.45" marker-end="url(#ah)"/>
<line x1="647.9" y1="164.1" x2="691.4" y2="164.1" stroke="#000" stroke-width="1.45" marker-end="url(#ah)"/>
<line x1="647.9" y1="164.1" x2="691.4" y2="210.8" stroke="#000" stroke-width="1.45" marker-end="url(#ah)"/>
<line x1="647.9" y1="164.1" x2="691.4" y2="236.0" stroke="#000" stroke-width="1.45" marker-end="url(#ah)"/>
<line x1="647.9" y1="164.1" x2="691.4" y2="265.5" stroke="#000" stroke-width="1.45" marker-end="url(#ah)"/>
<line x1="647.9" y1="210.8" x2="691.4" y2="164.1" stroke="#000" stroke-width="1.45" marker-end="url(#ah)"/>
<line x1="647.9" y1="210.8" x2="691.4" y2="210.8" stroke="#000" stroke-width="1.45" marker-end="url(#ah)"/>
<line x1="647.9" y1="210.8" x2="691.4" y2="236.0" stroke="#000" stroke-width="1.45" marker-end="url(#ah)"/>
<line x1="647.9" y1="210.8" x2="691.4" y2="265.5" stroke="#000" stroke-width="1.45" marker-end="url(#ah)"/>
<line x1="647.9" y1="236.0" x2="691.4" y2="164.1" stroke="#000" stroke-width="1.45" marker-end="url(#ah)"/>
<line x1="647.9" y1="236.0" x2="691.4" y2="210.8" stroke="#000" stroke-width="1.45" marker-end="url(#ah)"/>
<line x1="647.9" y1="236.0" x2="691.4" y2="236.0" stroke="#000" stroke-width="1.45" marker-end="url(#ah)"/>
<line x1="647.9" y1="236.0" x2="691.4" y2="265.5" stroke="#000" stroke-width="1.45" marker-end="url(#ah)"/>
<line x1="647.9" y1="265.5" x2="691.4" y2="164.1" stroke="#000" stroke-width="1.45" marker-end="url(#ah)"/>
<line x1="647.9" y1="265.5" x2="691.4" y2="210.8" stroke="#000" stroke-width="1.45" marker-end="url(#ah)"/>
<line x1="647.9" y1="265.5" x2="691.4" y2="236.0" stroke="#000" stroke-width="1.45" marker-end="url(#ah)"/>
<line x1="647.9" y1="265.5" x2="691.4" y2="265.5" stroke="#000" stroke-width="1.45" marker-end="url(#ah)"/>
<line x1="709.0" y1="164.1" x2="751.5" y2="164.1" stroke="#000" stroke-width="1.45" marker-end="url(#ah)"/>
<line x1="709.0" y1="164.1" x2="751.5" y2="210.8" stroke="#000" stroke-width="1.45" marker-end="url(#ah)"/>
<line x1="709.0" y1="164.1" x2="751.5" y2="236.0" stroke="#000" stroke-width="1.45" marker-end="url(#ah)"/>
<line x1="709.0" y1="164.1" x2="751.5" y2="265.5" stroke="#000" stroke-width="1.45" marker-end="url(#ah)"/>
<line x1="709.0" y1="210.8" x2="751.5" y2="164.1" stroke="#000" stroke-width="1.45" marker-end="url(#ah)"/>
<line x1="709.0" y1="210.8" x2="751.5" y2="210.8" stroke="#000" stroke-width="1.45" marker-end="url(#ah)"/>
<line x1="709.0" y1="210.8" x2="751.5" y2="236.0" stroke="#000" stroke-width="1.45" marker-end="url(#ah)"/>
<line x1="709.0" y1="210.8" x2="751.5" y2="265.5" stroke="#000" stroke-width="1.45" marker-end="url(#ah)"/>
<line x1="709.0" y1="236.0" x2="751.5" y2="164.1" stroke="#000" stroke-width="1.45" marker-end="url(#ah)"/>
<line x1="709.0" y1="236.0" x2="751.5" y2="210.8" stroke="#000" stroke-width="1.45" marker-end="url(#ah)"/>
<line x1="709.0" y1="236.0" x2="751.5" y2="236.0" stroke="#000" stroke-width="1.45" marker-end="url(#ah)"/>
<line x1="709.0" y1="236.0" x2="751.5" y2="265.5" stroke="#000" stroke-width="1.45" marker-end="url(#ah)"/>
<line x1="709.0" y1="265.5" x2="751.5" y2="164.1" stroke="#000" stroke-width="1.45" marker-end="url(#ah)"/>
<line x1="709.0" y1="265.5" x2="751.5" y2="210.8" stroke="#000" stroke-width="1.45" marker-end="url(#ah)"/>
<line x1="709.0" y1="265.5" x2="751.5" y2="236.0" stroke="#000" stroke-width="1.45" marker-end="url(#ah)"/>
<line x1="709.0" y1="265.5" x2="751.5" y2="265.5" stroke="#000" stroke-width="1.45" marker-end="url(#ah)"/>
<line x1="769.1" y1="164.1" x2="811.6" y2="218.8" stroke="#000" stroke-width="1.45" marker-end="url(#ah)"/>
<line x1="769.1" y1="210.8" x2="811.6" y2="218.8" stroke="#000" stroke-width="1.45" marker-end="url(#ah)"/>
<line x1="769.1" y1="236.0" x2="811.6" y2="218.8" stroke="#000" stroke-width="1.45" marker-end="url(#ah)"/>
<line x1="769.1" y1="265.5" x2="811.6" y2="218.8" stroke="#000" stroke-width="1.45" marker-end="url(#ah)"/>
<circle cx="586.2" cy="177.7" r="8.9" fill="#ff0000" stroke="#2f528f" stroke-width="0.7"/>
<circle cx="586.2" cy="210.8" r="8.9" fill="#4472c4" stroke="#2f528f" stroke-width="0.7"/>
<circle cx="586.2" cy="248.8" r="8.9" fill="#4472c4" stroke="#2f528f" stroke-width="0.7"/>
<circle cx="639.5" cy="164.1" r="8.9" fill="#4472c4" stroke="#2f528f" stroke-width="0.7"/>
<circle cx="639.5" cy="210.8" r="8.9" fill="#4472c4" stroke="#2f528f" stroke-width="0.7"/>
<circle cx="639.5" cy="236" r="8.9" fill="#4472c4" stroke="#2f528f" stroke-width="0.7"/>
<circle cx="639.5" cy="265.5" r="8.9" fill="#4472c4" stroke="#2f528f" stroke-width="0.7"/>
<circle cx="700.6" cy="164.1" r="8.9" fill="#4472c4" stroke="#2f528f" stroke-width="0.7"/>
<circle cx="700.6" cy="210.8" r="8.9" fill="#4472c4" stroke="#2f528f" stroke-width="0.7"/>
<circle cx="700.6" cy="236" r="8.9" fill="#4472c4" stroke="#2f528f" stroke-width="0.7"/>
<circle cx="700.6" cy="265.5" r="8.9" fill="#4472c4" stroke="#2f528f" stroke-width="0.7"/>
<circle cx="760.7" cy="164.1" r="8.9" fill="#4472c4" stroke="#2f528f" stroke-width="0.7"/>
<circle cx="760.7" cy="210.8" r="8.9" fill="#4472c4" stroke="#2f528f" stroke-width="0.7"/>
<circle cx="760.7" cy="236" r="8.9" fill="#4472c4" stroke="#2f528f" stroke-width="0.7"/>
<circle cx="760.7" cy="265.5" r="8.9" fill="#4472c4" stroke="#2f528f" stroke-width="0.7"/>
<circle cx="820.8" cy="218.8" r="8.9" fill="#4472c4" stroke="#2f528f" stroke-width="0.7"/>
<circle cx="639.5" cy="182.15" r="1.6" fill="#1f3864" stroke="none" stroke-width="1"/>
<circle cx="639.5" cy="187.45" r="1.6" fill="#1f3864" stroke="none" stroke-width="1"/>
<circle cx="639.5" cy="192.75" r="1.6" fill="#1f3864" stroke="none" stroke-width="1"/>
<circle cx="700.6" cy="182.15" r="1.6" fill="#1f3864" stroke="none" stroke-width="1"/>
<circle cx="700.6" cy="187.45" r="1.6" fill="#1f3864" stroke="none" stroke-width="1"/>
<circle cx="700.6" cy="192.75" r="1.6" fill="#1f3864" stroke="none" stroke-width="1"/>
<circle cx="760.7" cy="182.15" r="1.6" fill="#1f3864" stroke="none" stroke-width="1"/>
<circle cx="760.7" cy="187.45" r="1.6" fill="#1f3864" stroke="none" stroke-width="1"/>
<circle cx="760.7" cy="192.75" r="1.6" fill="#1f3864" stroke="none" stroke-width="1"/>
<circle cx="586.2" cy="224.8" r="1.6" fill="#1f3864" stroke="none" stroke-width="1"/>
<circle cx="586.2" cy="229.8" r="1.6" fill="#1f3864" stroke="none" stroke-width="1"/>
<circle cx="586.2" cy="234.8" r="1.6" fill="#1f3864" stroke="none" stroke-width="1"/>
<line x1="597.3" y1="329.0" x2="633.1" y2="315.5" stroke="#000" stroke-width="1.45" marker-end="url(#ah)"/>
<line x1="597.3" y1="329.0" x2="633.1" y2="362.6" stroke="#000" stroke-width="1.45" marker-end="url(#ah)"/>
<line x1="597.3" y1="329.0" x2="633.1" y2="387.9" stroke="#000" stroke-width="1.45" marker-end="url(#ah)"/>
<line x1="597.3" y1="329.0" x2="633.1" y2="417.4" stroke="#000" stroke-width="1.45" marker-end="url(#ah)"/>
<line x1="597.3" y1="362.6" x2="633.1" y2="315.5" stroke="#000" stroke-width="1.45" marker-end="url(#ah)"/>
<line x1="597.3" y1="362.6" x2="633.1" y2="362.6" stroke="#000" stroke-width="1.45" marker-end="url(#ah)"/>
<line x1="597.3" y1="362.6" x2="633.1" y2="387.9" stroke="#000" stroke-width="1.45" marker-end="url(#ah)"/>
<line x1="597.3" y1="362.6" x2="633.1" y2="417.4" stroke="#000" stroke-width="1.45" marker-end="url(#ah)"/>
<line x1="597.3" y1="400.1" x2="633.1" y2="315.5" stroke="#000" stroke-width="1.45" marker-end="url(#ah)"/>
<line x1="597.3" y1="400.1" x2="633.1" y2="362.6" stroke="#000" stroke-width="1.45" marker-end="url(#ah)"/>
<line x1="597.3" y1="400.1" x2="633.1" y2="387.9" stroke="#000" stroke-width="1.45" marker-end="url(#ah)"/>
<line x1="597.3" y1="400.1" x2="633.1" y2="417.4" stroke="#000" stroke-width="1.45" marker-end="url(#ah)"/>
<line x1="650.7" y1="315.5" x2="694.1" y2="315.5" stroke="#000" stroke-width="1.45" marker-end="url(#ah)"/>
<line x1="650.7" y1="315.5" x2="694.1" y2="362.6" stroke="#000" stroke-width="1.45" marker-end="url(#ah)"/>
<line x1="650.7" y1="315.5" x2="694.1" y2="387.9" stroke="#000" stroke-width="1.45" marker-end="url(#ah)"/>
<line x1="650.7" y1="315.5" x2="694.1" y2="417.4" stroke="#000" stroke-width="1.45" marker-end="url(#ah)"/>
<line x1="650.7" y1="362.6" x2="694.1" y2="315.5" stroke="#000" stroke-width="1.45" marker-end="url(#ah)"/>
<line x1="650.7" y1="362.6" x2="694.1" y2="362.6" stroke="#000" stroke-width="1.45" marker-end="url(#ah)"/>
<line x1="650.7" y1="362.6" x2="694.1" y2="387.9" stroke="#000" stroke-width="1.45" marker-end="url(#ah)"/>
<line x1="650.7" y1="362.6" x2="694.1" y2="417.4" stroke="#000" stroke-width="1.45" marker-end="url(#ah)"/>
<line x1="650.7" y1="387.9" x2="694.1" y2="315.5" stroke="#000" stroke-width="1.45" marker-end="url(#ah)"/>
<line x1="650.7" y1="387.9" x2="694.1" y2="362.6" stroke="#000" stroke-width="1.45" marker-end="url(#ah)"/>
<line x1="650.7" y1="387.9" x2="694.1" y2="387.9" stroke="#000" stroke-width="1.45" marker-end="url(#ah)"/>
<line x1="650.7" y1="387.9" x2="694.1" y2="417.4" stroke="#000" stroke-width="1.45" marker-end="url(#ah)"/>
<line x1="650.7" y1="417.4" x2="694.1" y2="315.5" stroke="#000" stroke-width="1.45" marker-end="url(#ah)"/>
<line x1="650.7" y1="417.4" x2="694.1" y2="362.6" stroke="#000" stroke-width="1.45" marker-end="url(#ah)"/>
<line x1="650.7" y1="417.4" x2="694.1" y2="387.9" stroke="#000" stroke-width="1.45" marker-end="url(#ah)"/>
<line x1="650.7" y1="417.4" x2="694.1" y2="417.4" stroke="#000" stroke-width="1.45" marker-end="url(#ah)"/>
<line x1="711.7" y1="315.5" x2="753.6" y2="315.5" stroke="#000" stroke-width="1.45" marker-end="url(#ah)"/>
<line x1="711.7" y1="315.5" x2="753.6" y2="362.6" stroke="#000" stroke-width="1.45" marker-end="url(#ah)"/>
<line x1="711.7" y1="315.5" x2="753.6" y2="387.9" stroke="#000" stroke-width="1.45" marker-end="url(#ah)"/>
<line x1="711.7" y1="315.5" x2="753.6" y2="417.4" stroke="#000" stroke-width="1.45" marker-end="url(#ah)"/>
<line x1="711.7" y1="362.6" x2="753.6" y2="315.5" stroke="#000" stroke-width="1.45" marker-end="url(#ah)"/>
<line x1="711.7" y1="362.6" x2="753.6" y2="362.6" stroke="#000" stroke-width="1.45" marker-end="url(#ah)"/>
<line x1="711.7" y1="362.6" x2="753.6" y2="387.9" stroke="#000" stroke-width="1.45" marker-end="url(#ah)"/>
<line x1="711.7" y1="362.6" x2="753.6" y2="417.4" stroke="#000" stroke-width="1.45" marker-end="url(#ah)"/>
<line x1="711.7" y1="387.9" x2="753.6" y2="315.5" stroke="#000" stroke-width="1.45" marker-end="url(#ah)"/>
<line x1="711.7" y1="387.9" x2="753.6" y2="362.6" stroke="#000" stroke-width="1.45" marker-end="url(#ah)"/>
<line x1="711.7" y1="387.9" x2="753.6" y2="387.9" stroke="#000" stroke-width="1.45" marker-end="url(#ah)"/>
<line x1="711.7" y1="387.9" x2="753.6" y2="417.4" stroke="#000" stroke-width="1.45" marker-end="url(#ah)"/>
<line x1="711.7" y1="417.4" x2="753.6" y2="315.5" stroke="#000" stroke-width="1.45" marker-end="url(#ah)"/>
<line x1="711.7" y1="417.4" x2="753.6" y2="362.6" stroke="#000" stroke-width="1.45" marker-end="url(#ah)"/>
<line x1="711.7" y1="417.4" x2="753.6" y2="387.9" stroke="#000" stroke-width="1.45" marker-end="url(#ah)"/>
<line x1="711.7" y1="417.4" x2="753.6" y2="417.4" stroke="#000" stroke-width="1.45" marker-end="url(#ah)"/>
<line x1="771.2" y1="315.5" x2="814.0" y2="370.2" stroke="#000" stroke-width="1.45" marker-end="url(#ah)"/>
<line x1="771.2" y1="362.6" x2="814.0" y2="370.2" stroke="#000" stroke-width="1.45" marker-end="url(#ah)"/>
<line x1="771.2" y1="387.9" x2="814.0" y2="370.2" stroke="#000" stroke-width="1.45" marker-end="url(#ah)"/>
<line x1="771.2" y1="417.4" x2="814.0" y2="370.2" stroke="#000" stroke-width="1.45" marker-end="url(#ah)"/>
<circle cx="588.9" cy="329" r="8.9" fill="#ff0000" stroke="#2f528f" stroke-width="0.7"/>
<circle cx="588.9" cy="362.6" r="8.9" fill="#4472c4" stroke="#2f528f" stroke-width="0.7"/>
<circle cx="588.9" cy="400.1" r="8.9" fill="#4472c4" stroke="#2f528f" stroke-width="0.7"/>
<circle cx="642.3" cy="315.5" r="8.9" fill="#4472c4" stroke="#2f528f" stroke-width="0.7"/>
<circle cx="642.3" cy="362.6" r="8.9" fill="#4472c4" stroke="#2f528f" stroke-width="0.7"/>
<circle cx="642.3" cy="387.9" r="8.9" fill="#4472c4" stroke="#2f528f" stroke-width="0.7"/>
<circle cx="642.3" cy="417.4" r="8.9" fill="#4472c4" stroke="#2f528f" stroke-width="0.7"/>
<circle cx="703.3" cy="315.5" r="8.9" fill="#4472c4" stroke="#2f528f" stroke-width="0.7"/>
<circle cx="703.3" cy="362.6" r="8.9" fill="#4472c4" stroke="#2f528f" stroke-width="0.7"/>
<circle cx="703.3" cy="387.9" r="8.9" fill="#4472c4" stroke="#2f528f" stroke-width="0.7"/>
<circle cx="703.3" cy="417.4" r="8.9" fill="#4472c4" stroke="#2f528f" stroke-width="0.7"/>
<circle cx="762.8" cy="315.5" r="8.9" fill="#4472c4" stroke="#2f528f" stroke-width="0.7"/>
<circle cx="762.8" cy="362.6" r="8.9" fill="#4472c4" stroke="#2f528f" stroke-width="0.7"/>
<circle cx="762.8" cy="387.9" r="8.9" fill="#4472c4" stroke="#2f528f" stroke-width="0.7"/>
<circle cx="762.8" cy="417.4" r="8.9" fill="#4472c4" stroke="#2f528f" stroke-width="0.7"/>
<circle cx="823.2" cy="370.2" r="8.9" fill="#4472c4" stroke="#2f528f" stroke-width="0.7"/>
<circle cx="642.3" cy="333.75" r="1.6" fill="#1f3864" stroke="none" stroke-width="1"/>
<circle cx="642.3" cy="339.05" r="1.6" fill="#1f3864" stroke="none" stroke-width="1"/>
<circle cx="642.3" cy="344.35" r="1.6" fill="#1f3864" stroke="none" stroke-width="1"/>
<circle cx="703.3" cy="333.75" r="1.6" fill="#1f3864" stroke="none" stroke-width="1"/>
<circle cx="703.3" cy="339.05" r="1.6" fill="#1f3864" stroke="none" stroke-width="1"/>
<circle cx="703.3" cy="344.35" r="1.6" fill="#1f3864" stroke="none" stroke-width="1"/>
<circle cx="762.8" cy="333.75" r="1.6" fill="#1f3864" stroke="none" stroke-width="1"/>
<circle cx="762.8" cy="339.05" r="1.6" fill="#1f3864" stroke="none" stroke-width="1"/>
<circle cx="762.8" cy="344.35" r="1.6" fill="#1f3864" stroke="none" stroke-width="1"/>
<circle cx="588.9" cy="376.35" r="1.6" fill="#1f3864" stroke="none" stroke-width="1"/>
<circle cx="588.9" cy="381.35" r="1.6" fill="#1f3864" stroke="none" stroke-width="1"/>
<circle cx="588.9" cy="386.35" r="1.6" fill="#1f3864" stroke="none" stroke-width="1"/>
<text x="451" y="183" font-size="13" textLength="71.2" lengthAdjust="spacingAndGlyphs">Dimenionless</text>
<text x="450.7" y="198.5" font-size="13" textLength="41.5" lengthAdjust="spacingAndGlyphs">number:</text>
<text x="452.9" y="226.6" font-size="13" textLength="65.3" lengthAdjust="spacingAndGlyphs">Mesurement</text>
<text x="453.5" y="241.9" font-size="13" textLength="77.8" lengthAdjust="spacingAndGlyphs">library (SCW):</text>
<text x="453.1" y="335.6" font-size="13" textLength="71.2" lengthAdjust="spacingAndGlyphs">Dimenionless</text>
<text x="453.1" y="351.5" font-size="13" textLength="41.5" lengthAdjust="spacingAndGlyphs">number:</text>
<text x="450.3" y="377.4" font-size="13" textLength="65.0" lengthAdjust="spacingAndGlyphs">Mesurement</text>
<text x="450" y="393.1" font-size="13" textLength="88.9" lengthAdjust="spacingAndGlyphs">library (particle):</text>
<text x="554.85" y="186.8" font-size="23.5" fill="#ff0000" text-anchor="middle">Π</text>
<path d="M552.9,168.8 L554.9,166.20000000000002 L556.9,168.8" fill="none" stroke="#ff0000" stroke-width="1" />
<text x="553.15" y="214" font-size="19" font-style="italic" text-anchor="middle">α</text>
<text x="562.35" y="218.8" font-size="10" font-style="italic" text-anchor="middle">f</text>
<circle cx="555.3" cy="224.5" r="1.5" fill="#1f3864" stroke="none" stroke-width="1"/>
<circle cx="555.3" cy="230.9" r="1.5" fill="#1f3864" stroke="none" stroke-width="1"/>
<circle cx="555.3" cy="237.3" r="1.5" fill="#1f3864" stroke="none" stroke-width="1"/>
<text x="545.0" y="254.6" font-size="14.5" font-weight="bold" font-style="italic" text-anchor="middle">u</text>
<path d="M551.7,243.6 L550.6,248.0" fill="none" stroke="#000" stroke-width="1.3" />
<line x1="555.5" y1="250.9" x2="564.0" y2="250.9" stroke="#000" stroke-width="0.9"/>
<text x="570.8" y="254.6" font-size="14.5" font-weight="bold" font-style="italic" text-anchor="middle">v</text>
<path d="M577.5,243.6 L576.4,248.0" fill="none" stroke="#000" stroke-width="1.3" />
<text x="557.75" y="338.6" font-size="23.5" fill="#ff0000" text-anchor="middle">Π</text>
<path d="M555.8,320.6 L557.8,318.0 L559.8,320.6" fill="none" stroke="#ff0000" stroke-width="1" />
<text x="556.25" y="365.5" font-size="19" font-style="italic" text-anchor="middle">α</text>
<text x="565.45" y="370.3" font-size="10" font-style="italic" text-anchor="middle">p</text>
<circle cx="558.1" cy="375.9" r="1.5" fill="#1f3864" stroke="none" stroke-width="1"/>
<circle cx="558.1" cy="382.3" r="1.5" fill="#1f3864" stroke="none" stroke-width="1"/>
<circle cx="558.1" cy="388.7" r="1.5" fill="#1f3864" stroke="none" stroke-width="1"/>
<text x="547.4" y="406" font-size="14.5" font-weight="bold" font-style="italic" text-anchor="middle">u</text>
<path d="M554.1,395 L553.0,399.4" fill="none" stroke="#000" stroke-width="1.3" />
<line x1="557.9" y1="402.3" x2="566.4" y2="402.3" stroke="#000" stroke-width="0.9"/>
<text x="573.2" y="406" font-size="14.5" font-weight="bold" font-style="italic" text-anchor="middle">v</text>
<path d="M579.9,395 L578.8,399.4" fill="none" stroke="#000" stroke-width="1.3" />
<text x="861.9" y="148.7" font-size="13" fill="#41719c" textLength="124.6" lengthAdjust="spacingAndGlyphs">output variables(SCW):</text>
<text x="993.75" y="148.7" font-size="15" fill="#2e75b6" font-weight="bold" font-style="italic" text-anchor="middle">I</text>
<text x="997.3" y="151.7" font-size="8" fill="#2e75b6" font-style="italic" textLength="13.1" lengthAdjust="spacingAndGlyphs">scw</text>
<text x="868.1" y="292.6" font-size="13" fill="#41719c" textLength="140.9" lengthAdjust="spacingAndGlyphs">output variables(particles):</text>
<text x="1015.75" y="292.6" font-size="15" fill="#2e75b6" font-weight="bold" font-style="italic" text-anchor="middle">I</text>
<text x="1020.65" y="295.6" font-size="8" fill="#2e75b6" font-style="italic" text-anchor="middle">p</text>
<rect x="878.5" y="152.4" width="93.7" height="34.3" fill="#fff" stroke="#41719c" stroke-width="1.2" rx="5" stroke-dasharray="3 2"/>
<rect x="838.4" y="299.2" width="198.0" height="39.6" fill="#fff" stroke="#41719c" stroke-width="1.2" rx="6" stroke-dasharray="3 2"/>
<text x="890.45" y="163.9" font-size="11" font-style="italic" text-anchor="middle">K</text>
<text x="895.9" y="166" font-size="7" font-style="italic" text-anchor="middle">S</text>
<text x="905.15" y="163.9" font-size="11" font-style="italic" text-anchor="middle">H</text>
<text x="910.65" y="166" font-size="7" font-style="italic" text-anchor="middle">s</text>
<line x1="886" y1="168.7" x2="915" y2="168.7" stroke="#d0d0d0" stroke-width="0.6"/>
<text x="893.65" y="181.4" font-size="11" font-style="italic" text-anchor="middle">ρ</text>
<text x="898.05" y="183" font-size="7" font-style="italic" text-anchor="middle">s</text>
<text x="903.75" y="181.4" font-size="11" font-style="italic" text-anchor="middle">u</text>
<text x="908.2" y="183" font-size="7" text-anchor="middle">0</text>
<text x="919.0" y="172.2" font-size="11" text-anchor="middle">(</text>
<text x="921.5" y="172.2" font-size="11" textLength="8.5" lengthAdjust="spacingAndGlyphs">v̄'</text>
<text x="938.0" y="172" font-size="11" fill="#bbb" text-anchor="middle">−</text>
<text x="943.5" y="172.2" font-size="11" textLength="8.0" lengthAdjust="spacingAndGlyphs">ū'</text>
<text x="953.75" y="172.2" font-size="11" text-anchor="middle">)</text>
<text x="960.5" y="172" font-size="11" fill="#aaa" text-anchor="middle">+</text>
<text x="966.5" y="172.2" font-size="9" text-anchor="middle">…</text>
<text x="846.25" y="314" font-size="11" font-style="italic" text-anchor="middle">K</text>
<text x="850.2" y="316" font-size="7" font-style="italic" textLength="5.3" lengthAdjust="spacingAndGlyphs">sp</text>
<text x="860.5" y="314" font-size="11" font-style="italic" text-anchor="middle">H</text>
<text x="866.35" y="316" font-size="7" font-style="italic" text-anchor="middle">s</text>
<line x1="842" y1="318.1" x2="870" y2="318.1" stroke="#000" stroke-width="0.7"/>
<text x="848.65" y="331.2" font-size="11" font-style="italic" text-anchor="middle">ρ</text>
<text x="853.05" y="333" font-size="7" font-style="italic" text-anchor="middle">s</text>
<text x="858.75" y="331.2" font-size="11" font-style="italic" text-anchor="middle">u</text>
<text x="863.55" y="333" font-size="7" text-anchor="middle">0</text>
<text x="872" y="321.4" font-size="11" textLength="32" lengthAdjust="spacingAndGlyphs">(ū' − v̄')</text>
<text x="910.5" y="321.4" font-size="11" text-anchor="middle">−</text>
<text x="916.2" y="314" font-size="11" font-style="italic" textLength="13.8" lengthAdjust="spacingAndGlyphs">gH</text>
<text x="932.2" y="316" font-size="7" font-style="italic" text-anchor="middle">s</text>
<line x1="916" y1="318.1" x2="936" y2="318.1" stroke="#000" stroke-width="0.7"/>
<text x="923.75" y="331.2" font-size="11" font-style="italic" text-anchor="middle">u</text>
<text x="928.05" y="333.5" font-size="7" text-anchor="middle">0</text>
<text x="928.05" y="327" font-size="7" text-anchor="middle">2</text>
<path d="M937.2,314.2 H944 L940.6,321.2 Z" fill="none" stroke="#000" stroke-width="0.8" />
<text x="944.3" y="321.4" font-size="11" font-style="italic" textLength="7.2" lengthAdjust="spacingAndGlyphs">ρ′</text>
<text x="953.55" y="323.4" font-size="7" font-style="italic" text-anchor="middle">s</text>
<text x="959.9" y="321.4" font-size="11" text-anchor="middle">−</text>
<text x="975.0" y="314" font-size="11" font-style="italic" text-anchor="middle">H</text>
<text x="980.45" y="316" font-size="7" font-style="italic" text-anchor="middle">s</text>
<line x1="965.3" y1="318.1" x2="987.4" y2="318.1" stroke="#000" stroke-width="0.7"/>
<text x="969.75" y="331.2" font-size="11" font-style="italic" text-anchor="middle">ρ</text>
<text x="974.05" y="333" font-size="7" font-style="italic" text-anchor="middle">s</text>
<text x="979.75" y="331.2" font-size="11" font-style="italic" text-anchor="middle">u</text>
<text x="984.6" y="333.5" font-size="7" text-anchor="middle">s</text>
<text x="984.3" y="327" font-size="7" text-anchor="middle">2</text>
<path d="M989.3,314.2 H996 L992.6,321.2 Z" fill="none" stroke="#000" stroke-width="0.8" />
<text x="997" y="321.4" font-size="11" textLength="10" lengthAdjust="spacingAndGlyphs">· τ</text>
<text x="1009.25" y="323.4" font-size="7" font-style="italic" text-anchor="middle">s</text>
<text x="1014" y="321.4" font-size="11" textLength="19.2" lengthAdjust="spacingAndGlyphs">− …</text>
<line x1="924.7" y1="187" x2="924.7" y2="195.5" stroke="#4472c4" stroke-width="1.6"/>
<path d="M921.9000000000001,195.0 L927.5,195.0 L924.7,199.5 Z" fill="#4472c4" stroke="none" stroke-width="1" />
<line x1="922.5" y1="339" x2="922.5" y2="348.8" stroke="#4472c4" stroke-width="1.6"/>
<path d="M919.7,348.3 L925.3,348.3 L922.5,352.8 Z" fill="#4472c4" stroke="none" stroke-width="1" />
<text x="927.8" y="197.5" font-size="13" textLength="61.1" lengthAdjust="spacingAndGlyphs">Simulations</text>
<text x="928.2" y="350.1" font-size="13" textLength="61.7" lengthAdjust="spacingAndGlyphs">Simulations</text>
<path d="M893.8,218.5 L924.3,200.4 L954.8,218.5 L924.3,236.6 Z" fill="#c5e0b4" stroke="#1f3864" stroke-width="0.9" />
<text x="916.9" y="222.7" font-size="13" fill="#fff" font-weight="bold" textLength="15.7" lengthAdjust="spacingAndGlyphs">Fit</text>
<path d="M892.1,370.8 L922.6,352.7 L953.1,370.8 L922.6,388.90000000000003 Z" fill="#c5e0b4" stroke="#1f3864" stroke-width="0.9" />
<text x="915.2" y="375.0" font-size="13" fill="#fff" font-weight="bold" textLength="15.7" lengthAdjust="spacingAndGlyphs">Fit</text>
<path d="M829.5,216.2 H881 V212.5 L893.8,218.5 L881,224.5 V220.8 H829.5 Z" fill="#c5e0b4" stroke="none" stroke-width="1" />
<path d="M954.7,216.10000000000002 H972.4 V212.3 L983.8,218.3 L972.4,224.3 V220.5 H954.7 Z" fill="#c5e0b4" stroke="none" stroke-width="1" />
<path d="M831.9,368.5 H879.5 V364.8 L892.2,370.8 L879.5,376.8 V373.1 H831.9 Z" fill="#c5e0b4" stroke="none" stroke-width="1" />
<path d="M953.1,367.3 H970.7 V363.5 L983,369.5 L970.7,375.5 V371.7 H953.1 Z" fill="#c5e0b4" stroke="none" stroke-width="1" />
<text x="838.7" y="213" font-size="13" textLength="57.9" lengthAdjust="spacingAndGlyphs">Prediction1</text>
<text x="842.1" y="363.4" font-size="13" textLength="60.0" lengthAdjust="spacingAndGlyphs">Prediction2</text>
<text x="861.85" y="237.2" font-size="15" fill="#ff0000" font-weight="bold" font-style="italic" text-anchor="middle">I</text>
<line x1="861.1" y1="225.39999999999998" x2="865.1" y2="225.39999999999998" stroke="#ff0000" stroke-width="0.8"/>
<text x="865.1" y="241.2" font-size="8" fill="#ff0000" font-style="italic" textLength="12.0" lengthAdjust="spacingAndGlyphs">scw</text>
<text x="866.65" y="387.5" font-size="15" fill="#ff0000" font-weight="bold" font-style="italic" text-anchor="middle">I</text>
<line x1="865.9" y1="375.7" x2="869.9" y2="375.7" stroke="#ff0000" stroke-width="0.8"/>
<text x="871.95" y="391.5" font-size="8" fill="#ff0000" font-style="italic" text-anchor="middle">p</text>
<rect x="985" y="202.6" width="66.6" height="29.0" fill="#fff" stroke="#c5e0b4" stroke-width="1.6"/>
<rect x="983.5" y="355.1" width="68.0" height="27.3" fill="#fff" stroke="#c5e0b4" stroke-width="1.6"/>
<text x="1002.9" y="222" font-size="14" textLength="22.9" lengthAdjust="spacingAndGlyphs">Loss</text>
<text x="1027" y="225" font-size="7.5" font-style="italic" textLength="11.4" lengthAdjust="spacingAndGlyphs">scw</text>
<text x="1003.6" y="373" font-size="12" textLength="19.6" lengthAdjust="spacingAndGlyphs">Loss</text>
<text x="1024" y="376" font-size="7" textLength="18.4" lengthAdjust="spacingAndGlyphs">particle</text>
<path d="M1051.6,217.9 Q1065.7,217.9 1065.7,228 V282 Q1065.7,292.3 1081.8,292.3 Q1065.7,292.3 1065.7,302.5 V360 Q1065.7,370.2 1051.5,370.2" fill="none" stroke="#c5e0b4" stroke-width="2" />
<rect x="1081.8" y="275.6" width="134.5" height="29.6" fill="#fff" stroke="#c5e0b4" stroke-width="2" rx="1.5"/>
<text x="1090.2" y="296.7" font-size="15.5" fill="#ff0000" textLength="24.0" lengthAdjust="spacingAndGlyphs">Loss</text>
<text x="1114.2" y="296.7" font-size="15.5" textLength="29.8" lengthAdjust="spacingAndGlyphs">=Loss</text>
<text x="1144" y="299.8" font-size="7" textLength="10.4" lengthAdjust="spacingAndGlyphs">scw</text>
<text x="1155.5" y="296.7" font-size="15.5" textLength="30.2" lengthAdjust="spacingAndGlyphs">+Loss</text>
<text x="1185.7" y="300.4" font-size="7" textLength="21.4" lengthAdjust="spacingAndGlyphs">particle</text>
<line x1="1147.3" y1="136" x2="1147.3" y2="275.6" stroke="#7e9a78" stroke-width="0.7"/>
<line x1="893" y1="123.5" x2="1128" y2="123.5" stroke="#a9c29c" stroke-width="0.6"/>
</svg>
</body></html>
